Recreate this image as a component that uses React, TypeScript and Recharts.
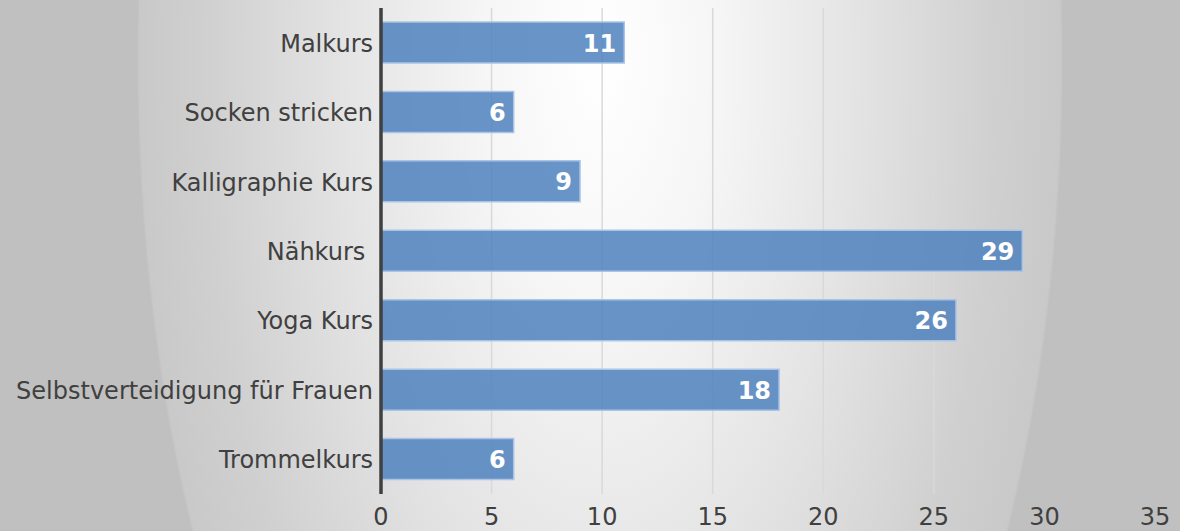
import React from 'react';
import { BarChart, Bar, XAxis, YAxis, CartesianGrid, LabelList } from 'recharts';

// Course names, top to bottom as shown
const courses = [
  'Malkurs',
  'Socken stricken',
  'Kalligraphie Kurs',
  'Nähkurs ',
  'Yoga Kurs',
  'Selbstverteidigung für Frauen',
  'Trommelkurs',
];

// Participants per course
const participants = [11, 6, 9, 29, 26, 18, 6];

const xTicks = [0, 5, 10, 15, 20, 25, 30, 35];

const data = courses.map((name, i) => ({ name, value: participants[i] }));

const FONT = 'DejaVu Sans';

// category labels on the left, right aligned against the axis
const YTick = (props: any) => {
  const { x, y, payload } = props;
  return (
    <text
      x={x}
      y={y}
      dy={9}
      textAnchor="end"
      fill="#404040"
      fontSize={24}
      fontFamily={FONT}
      style={{ whiteSpace: 'pre' }}
    >
      {payload.value}
    </text>
  );
};

const XTick = (props: any) => {
  const { x, y, payload } = props;
  return (
    <text x={x} y={y} dy={23} textAnchor="middle" fill="#404040" fontSize={24} fontFamily={FONT}>
      {payload.value}
    </text>
  );
};

const ValueLabel = (props: any) => {
  const { x, y, width, height, value } = props;
  return (
    <text
      x={x + width - 8}
      y={y + height / 2}
      dy={9}
      textAnchor="end"
      fill="#ffffff"
      fontSize={24}
      fontWeight="bold"
      fontFamily={FONT}
    >
      {value}
    </text>
  );
};

const App: React.FC = () => {
  return (
    <div
      style={{
        position: 'absolute',
        left: 0,
        top: 0,
        width: 1180,
        height: 531,
        background:
          'radial-gradient(ellipse 463px 1000px at 600px 60px, #ffffff 0%, #f6f6f6 25%, #e4e4e4 55%, #d0d0d0 85%, #c9c9c9 99.5%, #c0c0c0 100%)',
      }}
    >
      <BarChart
        width={1180}
        height={531}
        data={data}
        layout="vertical"
        margin={{ top: 8, right: 25, left: 0, bottom: 0 }}
      >
        <CartesianGrid
          horizontal={false}
          stroke="#d9d9d9"
          strokeWidth={1.5}
          verticalValues={[5, 10, 15, 20, 25]}
        />
        <XAxis
          type="number"
          domain={[0, 35]}
          ticks={xTicks}
          axisLine={false}
          tickLine={false}
          height={37}
          tick={<XTick />}
        />
        <YAxis
          type="category"
          dataKey="name"
          width={381}
          axisLine={{ stroke: '#404040', strokeWidth: 3.5 }}
          tickLine={false}
          interval={0}
          tick={<YTick />}
        />
        <Bar
          dataKey="value"
          barSize={41}
          fill="#4f81bd"
          fillOpacity={0.85}
          stroke="#a9c4e6"
          strokeWidth={1.5}
          isAnimationActive={false}
        >
          <LabelList dataKey="value" content={<ValueLabel />} />
        </Bar>
      </BarChart>
    </div>
  );
};

export default App;
